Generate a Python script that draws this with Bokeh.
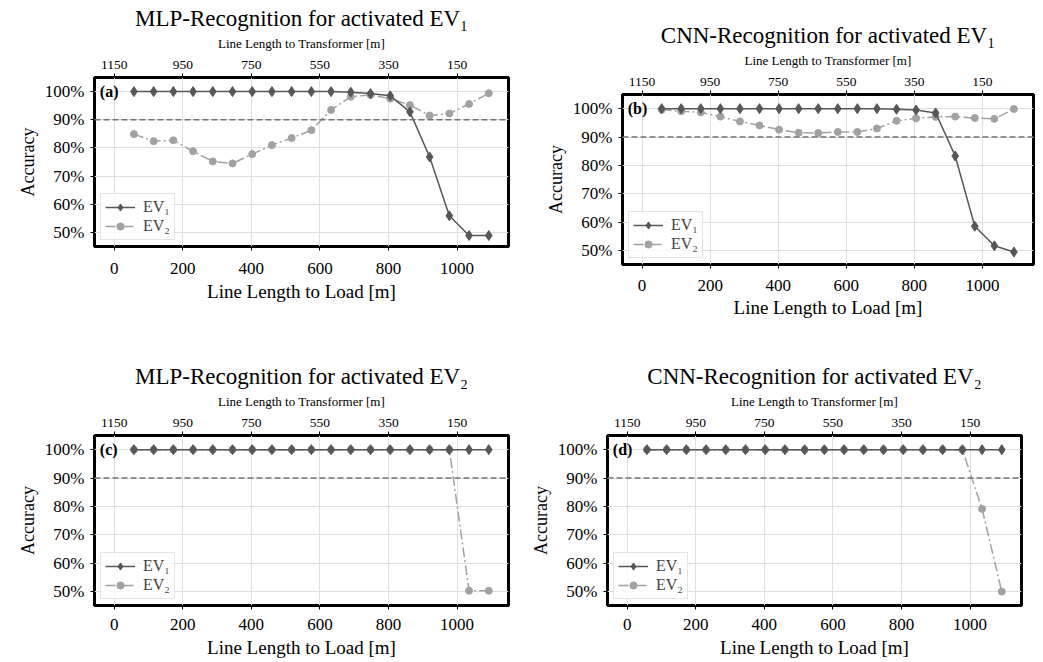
from bokeh.plotting import figure
from bokeh.models import (Range1d, LinearAxis, FixedTicker, PrintfTickFormatter,
                          Span, Label, Legend, LegendItem, Spacer)
from bokeh.layouts import column, row
from bokeh.embed import file_html
from bokeh.resources import INLINE

# ---------------- data ----------------
x_load = [57.5, 115, 172.5, 230, 287.5, 345, 402.5, 460, 517.5, 575,
          632.5, 690, 747.5, 805, 862.5, 920, 977.5, 1035, 1092.5]
load_ticks = [0, 200, 400, 600, 800, 1000]
transformer_ticks = [1150, 950, 750, 550, 350, 150]
acc_ticks = [50, 60, 70, 80, 90, 100]
threshold = 90

mlp_ev1_ev1 = [100, 100, 100, 100, 100, 100, 100, 100, 100, 100, 100, 99.8,
               99.3, 98.5, 92.8, 76.8, 55.9, 48.9, 48.9]
mlp_ev1_ev2 = [84.9, 82.4, 82.7, 78.8, 75.2, 74.5, 77.8, 81.0, 83.5, 86.3,
               93.5, 98.2, 98.8, 97.5, 95.2, 91.5, 92.2, 95.6, 99.4]
cnn_ev1_ev1 = [100, 100, 100, 100, 100, 100, 100, 100, 100, 100, 100, 100,
               99.8, 99.5, 98.5, 83.3, 58.5, 51.6, 49.4]
cnn_ev1_ev2 = [99.6, 99.1, 98.7, 97.2, 95.5, 94.1, 92.6, 91.5, 91.4, 91.8,
               91.8, 93.0, 95.7, 96.6, 97.1, 97.2, 96.7, 96.4, 99.9]
mlp_ev2_ev1 = [100, 100, 100, 100, 100, 100, 100, 100, 100, 100, 100, 100,
               100, 100, 100, 100, 100, 100, 100]
mlp_ev2_ev2 = [100, 100, 100, 100, 100, 100, 100, 100, 100, 100, 100, 100,
               100, 100, 100, 100, 100, 50.2, 50.2]
cnn_ev2_ev1 = [100, 100, 100, 100, 100, 100, 100, 100, 100, 100, 100, 100,
               100, 100, 100, 100, 100, 100, 100]
cnn_ev2_ev2 = [100, 100, 100, 100, 100, 100, 100, 100, 100, 100, 100, 100,
               100, 100, 100, 100, 100, 79.1, 49.9]

titles = ["MLP-Recognition for activated EV\u2081",
          "CNN-Recognition for activated EV\u2081",
          "MLP-Recognition for activated EV\u2082",
          "CNN-Recognition for activated EV\u2082"]
tags = ["(a)", "(b)", "(c)", "(d)"]
series_names = ["EV\u2081", "EV\u2082"]

FONT = "Liberation Serif"
EV1_COLOR = "#575757"
EV2_COLOR = "#a2a2a2"


def make_panel(title, tag, ev1, ev2, width, height, mbl, mbr, mbt, mbb,
               b_std, b_lstd):
    p = figure(width=width, height=height,
               x_range=Range1d(-57.5, 1150), y_range=Range1d(45, 105),
               output_backend="svg", toolbar_location=None,
               min_border_left=mbl, min_border_right=mbr,
               min_border_top=mbt, min_border_bottom=mbb,
               x_axis_label="Line Length to Load [m]", y_axis_label="Accuracy",
               title=title)
    p.background_fill_color = "white"
    p.border_fill_color = "white"
    p.outline_line_color = "black"
    p.outline_line_width = 3

    p.title.text_font = FONT
    p.title.text_font_size = "23px"
    p.title.text_font_style = "normal"
    p.title.text_color = "black"
    p.title.align = "center"
    p.title.standoff = 4

    bx = p.below[0]
    ly = p.left[0]

    p.extra_x_ranges = {"trafo": Range1d(1207.5, 0)}
    top = LinearAxis(x_range_name="trafo", ticker=FixedTicker(ticks=transformer_ticks),
                     axis_label="Line Length to Transformer [m]")
    p.add_layout(top, "above")

    bx.ticker = FixedTicker(ticks=load_ticks)
    ly.ticker = FixedTicker(ticks=acc_ticks)
    ly.formatter = PrintfTickFormatter(format="%d%%")

    for ax in (bx, ly, top):
        ax.axis_line_color = None
        ax.major_tick_line_color = "black"
        ax.major_tick_line_width = 1
        ax.major_tick_out = 4
        ax.major_tick_in = 0
        ax.minor_tick_line_color = None
        ax.major_label_text_font = FONT
        ax.major_label_text_color = "black"
        ax.axis_label_text_font = FONT
        ax.axis_label_text_font_style = "normal"
        ax.axis_label_text_color = "black"

    top.major_label_text_font_size = "13.5px"
    top.axis_label_text_font_size = "13px"
    top.major_label_standoff = 5
    top.axis_label_standoff = 7

    bx.major_label_text_font_size = "17px"
    bx.axis_label_text_font_size = "19px"
    bx.major_label_standoff = b_std
    bx.axis_label_standoff = b_lstd

    ly.major_label_text_font_size = "17px"
    ly.axis_label_text_font_size = "18px"
    ly.major_label_standoff = 6
    ly.axis_label_standoff = 4

    p.xgrid.ticker = FixedTicker(ticks=load_ticks)
    p.ygrid.ticker = FixedTicker(ticks=acc_ticks)
    p.grid.grid_line_color = "#dedede"
    p.grid.grid_line_width = 1

    p.add_layout(Span(location=threshold, dimension="width", line_color="#747474",
                      line_width=1.5, line_dash="6 3"))

    l2 = p.line(x_load, ev2, line_color=EV2_COLOR, line_width=1.5, line_dash="10 3 2 3")
    s2 = p.scatter(x_load, ev2, marker="circle", size=7, fill_color=EV2_COLOR,
                   line_color=EV2_COLOR)
    l1 = p.line(x_load, ev1, line_color=EV1_COLOR, line_width=1.5)
    s1 = p.scatter(x_load, ev1, marker="diamond", size=10, fill_color=EV1_COLOR,
                   line_color=EV1_COLOR)

    legend = Legend(items=[LegendItem(label=series_names[0], renderers=[l1, s1]),
                           LegendItem(label=series_names[1], renderers=[l2, s2])],
                    location="bottom_left")
    legend.label_text_font = FONT
    legend.label_text_font_size = "16px"
    legend.margin = 6
    legend.padding = 4
    legend.spacing = 1
    legend.glyph_width = 30
    legend.glyph_height = 18
    legend.label_height = 18
    legend.label_standoff = 8
    legend.border_line_color = "#cccccc"
    legend.border_line_width = 1
    legend.background_fill_color = "white"
    legend.background_fill_alpha = 0.8
    p.add_layout(legend)

    p.add_layout(Label(x=-42, y=100, text=tag, text_font=FONT, text_font_style="bold",
                       text_font_size="16px", text_baseline="middle", text_color="black"))
    return p


# row 1: A (0..520) and B (520..1035), B shifted down by a spacer
pa = make_panel(titles[0], tags[0], mlp_ev1_ev1, mlp_ev1_ev2, 520, 322, 94, 12, 77, 76, 12, 4)
pb = make_panel(titles[1], tags[1], cnn_ev1_ev1, cnn_ev1_ev2, 515, 305, 102, 2, 77, 58, 11, 3)
# row 2
pc = make_panel(titles[2], tags[2], mlp_ev2_ev1, mlp_ev2_ev2, 520, 340, 94, 12, 113, 57, 9, 4)
pd = make_panel(titles[3], tags[3], cnn_ev2_ev1, cnn_ev2_ev2, 515, 340, 87, 14, 113, 57, 9, 4)

layout = column(row(pa, column(Spacer(width=515, height=17), pb)), row(pc, pd))
open("out.html", "w").write(file_html(layout, INLINE))
